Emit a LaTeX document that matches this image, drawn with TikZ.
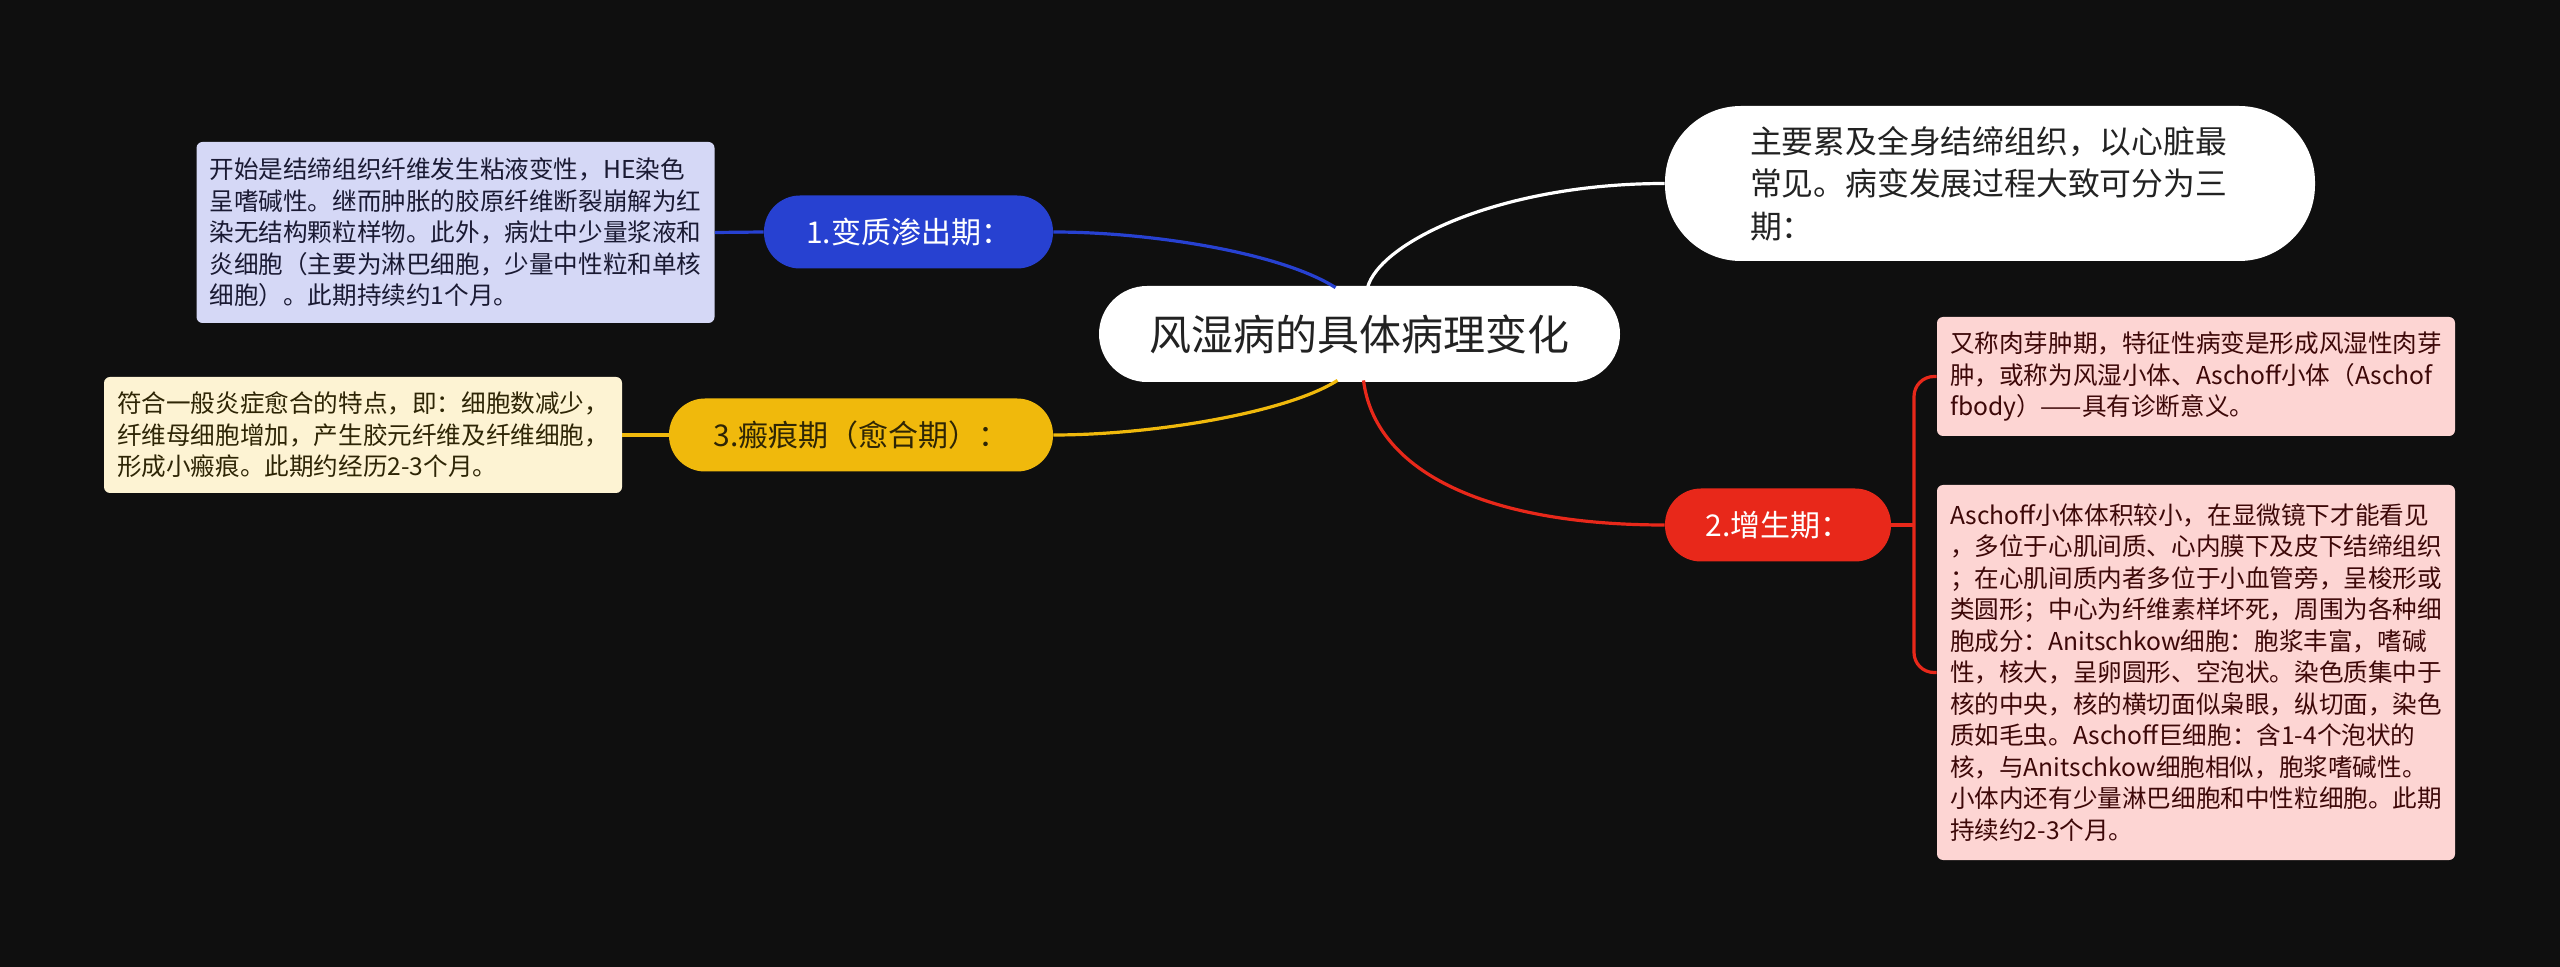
\documentclass[tikz,border=0pt]{standalone}
\usepackage{fontspec}
\setmainfont{Noto Sans CJK SC}
\definecolor{bg}{HTML}{0F0F0F}
\definecolor{cblue}{HTML}{2741D1}
\definecolor{cbluebox}{HTML}{D5D8F6}
\definecolor{cyellow}{HTML}{F0B90C}
\definecolor{cyellowbox}{HTML}{FDF3D3}
\definecolor{cred}{HTML}{E8281A}
\definecolor{cpinkbox}{HTML}{FDD5D3}
\definecolor{tdark}{HTML}{222222}
\definecolor{tbluedark}{HTML}{1A1A33}
\definecolor{tyellowdark}{HTML}{2E2505}
\definecolor{tpinkdark}{HTML}{3D0808}
\begin{document}
\begin{tikzpicture}[x=0.5pt,y=-0.5pt,
  rootbox/.style={fill=white, text=tdark, rounded corners=24pt, minimum width=260.5pt, minimum height=48pt, inner sep=0pt, font=\fontsize{21pt}{25pt}\selectfont},
  introbox/.style={fill=white, text=tdark, rounded corners=38pt, minimum width=325pt, minimum height=77.5pt, inner sep=0pt, text width=240pt, align=left, font=\fontsize{15.9pt}{21.2pt}\selectfont},
  phasebox/.style={rounded corners=18pt, minimum height=36.5pt, inner sep=0pt, font=\fontsize{15pt}{18pt}\selectfont},
  notebox/.style={rounded corners=3pt, inner xsep=6.5pt, inner ysep=0pt, text width=246pt, align=left, font=\fontsize{12.3pt}{15.75pt}\selectfont},
  conn/.style={line width=1.6pt}
]
\path[fill=bg] (0,0) rectangle (2560,967);

\node[rootbox] (root) at (1359.5,334) {风湿病的具体病理变化};

\node[introbox] (intro) at (1990,183.5) {主要累及全身结缔组织，以心脏最\\常见。病变发展过程大致可分为三\\期：};

\node[phasebox, fill=cblue, text=white, minimum width=144.5pt] (p1) at (908.5,232) {1.变质渗出期：};
\node[phasebox, fill=cyellow, text=tyellowdark, minimum width=192pt] (p3) at (861,435) {3.瘢痕期（愈合期）：};
\node[phasebox, fill=cred, text=white, minimum width=113pt] (p2) at (1778,525) {2.增生期：};

\node[notebox, fill=cbluebox, text=tbluedark, minimum height=90.5pt] (n1) at (455.5,232.5) {开始是结缔组织纤维发生粘液变性，HE染色\\呈嗜碱性。继而肿胀的胶原纤维断裂崩解为红\\染无结构颗粒样物。此外，病灶中少量浆液和\\炎细胞（主要为淋巴细胞，少量中性粒和单核\\细胞）。此期持续约1个月。};

\node[notebox, fill=cyellowbox, text=tyellowdark, minimum height=58pt] (n3) at (363,435) {符合一般炎症愈合的特点，即：细胞数减少，\\纤维母细胞增加，产生胶元纤维及纤维细胞，\\形成小瘢痕。此期约经历2-3个月。};

\node[notebox, fill=cpinkbox, text=tpinkdark, minimum height=59.5pt] (n2a) at (2196,376.5) {又称肉芽肿期，特征性病变是形成风湿性肉芽\\肿，或称为风湿小体、Aschoff小体（Aschof\\fbody）——具有诊断意义。};

\node[notebox, fill=cpinkbox, text=tpinkdark, minimum height=187.5pt] (n2b) at (2196,672.5) {Aschoff小体体积较小，在显微镜下才能看见\\，多位于心肌间质、心内膜下及皮下结缔组织\\；在心肌间质内者多位于小血管旁，呈梭形或\\类圆形；中心为纤维素样坏死，周围为各种细\\胞成分：Anitschkow细胞：胞浆丰富，嗜碱\\性，核大，呈卵圆形、空泡状。染色质集中于\\核的中央，核的横切面似枭眼，纵切面，染色\\质如毛虫。Aschoff巨细胞：含1-4个泡状的\\核，与Anitschkow细胞相似，胞浆嗜碱性。\\小体内还有少量淋巴细胞和中性粒细胞。此期\\持续约2-3个月。};

% main branches
\draw[conn, cblue] ([xshift=-12pt,yshift=-1pt]root.north) .. controls +(-55,-35) and +(97,0) .. (p1.east);
\draw[conn, white] ([xshift=4pt,yshift=-1pt]root.north) .. controls +(12,-45) and +(-165,0) .. (intro.west);
\draw[conn, cyellow] ([xshift=-11pt,yshift=1pt]root.south) .. controls +(-52,33) and +(97,0) .. (p3.east);
\draw[conn, cred] ([xshift=2pt,yshift=1pt]root.south) .. controls +(11,88) and +(-185,0) .. (p2.west);

% leaves
\draw[conn, cblue] (p1.west) -- (n1.east);
\draw[conn, cyellow] (p3.west) -- (n3.east);
\coordinate (j) at (1914,525);
\draw[conn, cred] (p2.east) -- (j);
\draw[conn, cred, rounded corners=10pt] (j) |- (n2a.west);
\draw[conn, cred, rounded corners=10pt] (j) |- (n2b.west);
\end{tikzpicture}
\end{document}
